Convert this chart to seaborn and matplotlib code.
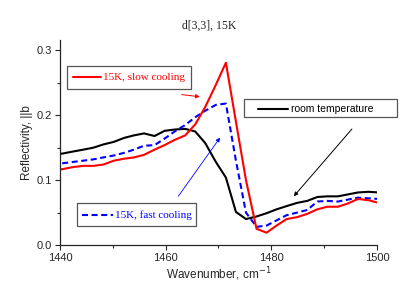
import numpy as np
import pandas as pd
import matplotlib
matplotlib.use('Agg')
import matplotlib.pyplot as plt
import seaborn as sns
from matplotlib.patches import Rectangle
from matplotlib.ticker import MultipleLocator

# wavenumber grid (cm-1), spacing ~1.93
wavenumber = [1438.6, 1440.5, 1442.4, 1444.4, 1446.3, 1448.2, 1450.2, 1452.1, 1454.0,
              1455.9, 1457.9, 1459.8, 1461.7, 1463.7, 1465.6, 1467.5, 1469.5, 1471.4,
              1473.3, 1475.2, 1477.2, 1479.1, 1481.0, 1482.9, 1484.9, 1486.8, 1488.7,
              1490.6, 1492.6, 1494.5, 1496.4, 1498.4, 1500.3]

slow_cooling = [0.115, 0.117, 0.120, 0.122, 0.122, 0.124, 0.130, 0.133, 0.135,
                0.139, 0.147, 0.154, 0.162, 0.169, 0.186, 0.213, 0.247, 0.281,
                0.190, 0.100, 0.025, 0.019, 0.030, 0.040, 0.043, 0.048, 0.055,
                0.059, 0.059, 0.064, 0.071, 0.069, 0.065]

fast_cooling = [0.125, 0.126, 0.128, 0.130, 0.132, 0.135, 0.138, 0.142, 0.147,
                0.153, 0.154, 0.164, 0.175, 0.185, 0.197, 0.207, 0.216, 0.218,
                0.130, 0.050, 0.028, 0.030, 0.038, 0.046, 0.050, 0.054, 0.067,
                0.068, 0.067, 0.070, 0.073, 0.072, 0.071]

room_temp = [0.139, 0.141, 0.144, 0.147, 0.150, 0.155, 0.159, 0.165, 0.169,
             0.172, 0.168, 0.176, 0.178, 0.179, 0.175, 0.157, 0.128, 0.104,
             0.051, 0.040, 0.044, 0.049, 0.055, 0.060, 0.065, 0.068, 0.074,
             0.075, 0.075, 0.078, 0.081, 0.082, 0.081]

df = pd.DataFrame({'wn': wavenumber, 'slow': slow_cooling,
                   'fast': fast_cooling, 'room': room_temp})

sns.set_style('ticks')
plt.rcParams['font.family'] = ['Liberation Sans', 'DejaVu Sans']
plt.rcParams['xtick.direction'] = 'out'
plt.rcParams['ytick.direction'] = 'out'

fig = plt.figure(figsize=(4.15, 2.89), dpi=100)
ax = fig.add_axes([0.1446, 0.1522, 0.7638, 0.7094])

blue_dash = (0, (2.9, 1.7))
sns.lineplot(data=df, x='wn', y='room', ax=ax, color='black', lw=1.5)
sns.lineplot(data=df, x='wn', y='fast', ax=ax, color='blue', lw=1.5, linestyle=blue_dash)
sns.lineplot(data=df, x='wn', y='slow', ax=ax, color='red', lw=1.5)

ax.set_xlim(1440, 1500)
ax.set_ylim(0, 0.316)
ax.xaxis.set_major_locator(MultipleLocator(20))
ax.xaxis.set_minor_locator(MultipleLocator(10))
ax.yaxis.set_major_locator(MultipleLocator(0.1))
ax.yaxis.set_minor_locator(MultipleLocator(0.05))
ax.tick_params(which='major', length=3.5, width=0.8, labelsize=8, pad=2)
ax.tick_params(which='minor', length=2, width=0.8)
ax.set_yticks([0, 0.1, 0.2, 0.3], ['0.0', '0.1', '0.2', '0.3'])
sns.despine(ax=ax)
for s in ['left', 'bottom']:
    ax.spines[s].set_linewidth(0.9)

ax.set_xlabel('Wavenumber, cm$^{-1}$', fontsize=8.5, labelpad=2)
ax.set_ylabel('Reflectivity, ||b', fontsize=8.5, labelpad=3)
fig.text(0.505, 0.91, 'd[3,3], 15K', ha='center', va='center', fontsize=8.5,
         family=['Liberation Serif', 'DejaVu Serif'])

# labelled boxes
def box(x0, y0, x1, y1):
    ax.add_patch(Rectangle((x0, y0), x1 - x0, y1 - y0, fill=True, facecolor='white',
                           edgecolor='#555555', lw=0.9, clip_on=False, zorder=5))

serif = ['Liberation Serif', 'DejaVu Serif']

box(1441.3, 0.241, 1464.8, 0.276)
ax.plot([1442.5, 1447.8], [0.2585, 0.2585], color='red', lw=1.5, zorder=6, clip_on=False)
ax.text(1448.2, 0.2585, '15K, slow cooling', color='red', fontsize=8, va='center',
        family=serif, zorder=6)

box(1474.9, 0.197, 1503.7, 0.2246)
ax.plot([1477.5, 1483.2], [0.2103, 0.2103], color='black', lw=1.5, zorder=6, clip_on=False)
ax.text(1483.8, 0.2103, 'room temperature', color='black', fontsize=7.5, va='center',
        zorder=6, clip_on=False)

box(1443.2, 0.029, 1465.7, 0.065)
ax.plot([1444.2, 1450.0], [0.0466, 0.0466], color='blue', lw=1.5, linestyle=blue_dash,
        zorder=6, clip_on=False)
ax.text(1450.4, 0.0466, '15K, fast cooling', color='blue', fontsize=8, va='center',
        family=serif, zorder=6)

# arrows
ax.annotate('', xy=(1467.0, 0.228), xytext=(1462.5, 0.2323),
            arrowprops=dict(arrowstyle='-|>', color='red', lw=0.7, mutation_scale=6))
ax.annotate('', xy=(1483.9, 0.0718), xytext=(1495.6, 0.182),
            arrowprops=dict(arrowstyle='-|>', color='black', lw=0.7, mutation_scale=6))
ax.annotate('', xy=(1470.6, 0.169), xytext=(1462.1, 0.0718),
            arrowprops=dict(arrowstyle='-|>', color='blue', lw=0.6, mutation_scale=6))

plt.savefig('out.png', dpi=100)
